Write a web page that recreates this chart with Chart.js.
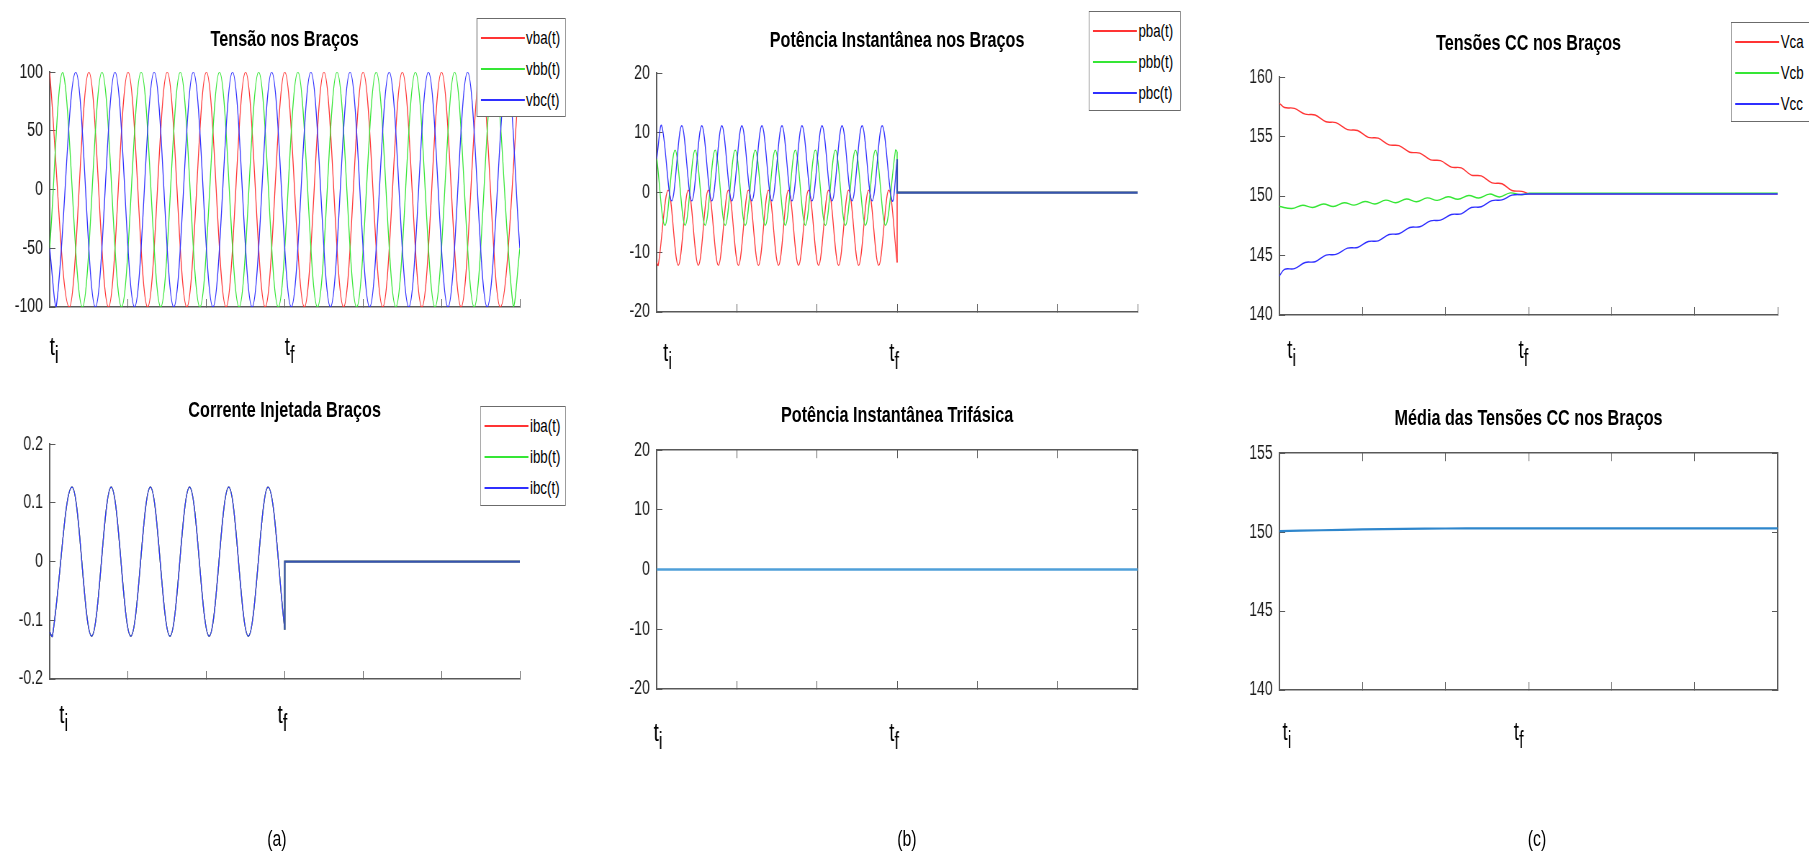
<!DOCTYPE html>
<html>
<head>
<meta charset="utf-8">
<title>Tensões e potências nos braços</title>
<script src="https://cdn.jsdelivr.net/npm/chart.js@4.4.0/dist/chart.umd.min.js"></script>
<style>
html, body { margin: 0; padding: 0; background: #fff; width: 1809px; height: 855px; overflow: hidden; }
/* the original figure is squeezed horizontally, so the whole sheet is drawn wide and scaled */
#fig { position: absolute; left: 0; top: 0; width: 2513px; height: 855px; transform: scaleX(0.72); transform-origin: 0 0;
       font-family: "Liberation Sans", Arial, sans-serif; }
.panel { position: absolute; }
.title { position: absolute; width: 700px; text-align: center; font-weight: bold; font-size: 22.5px; line-height: 26px; color: #000; white-space: nowrap; }
.legend { position: absolute; background: #fff; border: 1.5px solid #6b6b6b; box-sizing: border-box; overflow: hidden; }
.row { position: absolute; left: 5px; height: 24px; display: flex; align-items: center; white-space: nowrap; }
.ln { display: inline-block; width: 61px; height: 2px; margin-right: 2px; }
.lb { font-size: 18.5px; color: #000; }
.cap { position: absolute; width: 100px; text-align: center; font-size: 22px; line-height: 26px; color: #000; }
</style>
</head>
<body>
<div id="fig"></div>
<script>
// Time axis: t_i = 0, t_f = 3, end of record = 6 (one tick per unit)
const tMarkAt = [0, 3];
const tSubs = ['i', 'f'];

// (a) Tensão nos Braços
const vbaT = [0,0.25,0.5,0.75,1,1.25,1.5,1.75,2,2.25,2.5,2.75,3,3.25,3.5,3.75,4,4.25,4.5,4.75,5,5.25,5.5,5.75,6];
const vbaV = [100,-100,100,-100,100,-100,100,-100,100,-100,100,-100,100,-100,100,-100,100,-100,100,-100,100,-100,100,-100,100];
const vbbT = [0,0.167,0.417,0.667,0.917,1.167,1.417,1.667,1.917,2.167,2.417,2.667,2.917,3.167,3.417,3.667,3.917,4.167,4.417,4.667,4.917,5.167,5.417,5.667,5.917,6];
const vbbV = [-50,100,-100,100,-100,100,-100,100,-100,100,-100,100,-100,100,-100,100,-100,100,-100,100,-100,100,-100,100,-100,-50];
const vbcT = [0,0.083,0.333,0.583,0.833,1.083,1.333,1.583,1.833,2.083,2.333,2.583,2.833,3.083,3.333,3.583,3.833,4.083,4.333,4.583,4.833,5.083,5.333,5.583,5.833,6];
const vbcV = [-50,-100,100,-100,100,-100,100,-100,100,-100,100,-100,100,-100,100,-100,100,-100,100,-100,100,-100,100,-100,100,-50];

// (a) Corrente Injetada Braços (the three currents coincide)
const iT = [0,0.035,0.285,0.535,0.785,1.035,1.285,1.535,1.785,2.035,2.285,2.535,2.785,3];
const iV = [-0.12,-0.127,0.127,-0.127,0.127,-0.127,0.127,-0.127,0.127,-0.127,0.127,-0.127,0.127,-0.116];
const tailT = [3, 3, 6];
const iTail = [-0.116, 0, 0];

// (b) Potência Instantânea nos Braços
const pbaT = [0,0.02,0.145,0.27,0.395,0.52,0.645,0.77,0.895,1.02,1.145,1.27,1.395,1.52,1.645,1.77,1.895,2.02,2.145,2.27,2.395,2.52,2.645,2.77,2.895,3];
const pbaV = [-11.7,-12.2,0.4,-12.2,0.4,-12.2,0.4,-12.2,0.4,-12.2,0.4,-12.2,0.4,-12.2,0.4,-12.2,0.4,-12.2,0.4,-12.2,0.4,-12.2,0.4,-12.2,0.4,-11.7];
const pbbT = [0,0.105,0.23,0.355,0.48,0.605,0.73,0.855,0.98,1.105,1.23,1.355,1.48,1.605,1.73,1.855,1.98,2.105,2.23,2.355,2.48,2.605,2.73,2.855,2.98,3];
const pbbV = [6,-5.5,7.1,-5.5,7.1,-5.5,7.1,-5.5,7.1,-5.5,7.1,-5.5,7.1,-5.5,7.1,-5.5,7.1,-5.5,7.1,-5.5,7.1,-5.5,7.1,-5.5,7.1,6.9];
const pbcT = [0,0.063,0.188,0.313,0.438,0.563,0.688,0.813,0.938,1.063,1.188,1.313,1.438,1.563,1.688,1.813,1.938,2.063,2.188,2.313,2.438,2.563,2.688,2.813,2.938,3];
const pbcV = [5.6,11.2,-1.4,11.2,-1.4,11.2,-1.4,11.2,-1.4,11.2,-1.4,11.2,-1.4,11.2,-1.4,11.2,-1.4,11.2,-1.4,11.2,-1.4,11.2,-1.4,11.2,-1.4,5.6];
const pbaTail = [-11.7, 0, 0];
const pbbTail = [6.9, 0, 0];
const pbcTail = [5.6, 0, 0];

// (b) Potência Instantânea Trifásica
const p3T = [0, 3, 6];
const p3V = [0, 0, 0];

// (c) Tensões CC nos Braços
const vcT = [0,0.06,0.18,0.31,0.43,0.56,0.68,0.82,0.94,1.07,1.19,1.32,1.44,1.57,1.69,1.82,1.94,2.07,2.19,2.31,2.43,2.56,2.68,2.8,2.92,3];
const vcaV = [157.81,157.45,157.38,156.89,156.82,156.25,156.18,155.59,155.52,154.94,154.87,154.31,154.24,153.69,153.62,153.05,152.98,152.44,152.37,151.77,151.7,151.11,151.04,150.47,150.4,150.2];
const vccV = [143.28,143.84,143.9,144.42,144.48,145.04,145.1,145.62,145.68,146.18,146.24,146.77,146.83,147.36,147.42,147.92,147.98,148.45,148.51,149.04,149.1,149.62,149.68,150.08,150.14,150.18];
const vcbT = [0,0.15,0.28,0.4,0.53,0.65,0.78,0.9,1.03,1.15,1.28,1.4,1.53,1.65,1.78,1.9,2.03,2.15,2.28,2.4,2.53,2.65,2.78,2.9,3];
const vcbV = [149.12,148.96,149.23,149.04,149.34,149.12,149.44,149.24,149.55,149.34,149.66,149.44,149.76,149.53,149.85,149.64,149.95,149.73,150.05,149.84,150.17,149.93,150.27,150.12,150.22];
const vcTailT = [3, 6];
const vcaTail = [150.2, 150.2];
const vcbTail = [150.23, 150.23];
const vccTail = [150.18, 150.18];

// (c) Média das Tensões CC nos Braços
const vmT = [0,0.5,1,1.5,2,2.5,3,4.5,6];
const vmV = [150.06,150.12,150.17,150.21,150.23,150.24,150.24,150.24,150.24];

const FONT = '"Liberation Sans", Arial, sans-serif';
const RED = '#ff3434', GREEN = '#35e635', BLUE = '#2f2fff', FLAT = '#3553b0';
const AXIS = '#595959';
const SINE = 0.37;   // bezier tension that turns extrema into a sine shape
const Y_W = 90, PAD_T = 16, PAD_R = 16, X_H = 70;

Chart.defaults.font.family = FONT;

function pts(xs, ys) {
    return xs.map((x, i) => ({ x: x, y: ys[i] }));
}

function line(xs, ys, color, width, tension) {
    return {
        data: pts(xs, ys),
        borderColor: color,
        borderWidth: width,
        tension: tension,
        pointRadius: 0,
        fill: false,
        xAxisID: 'x',
        yAxisID: 'y'
    };
}

// t_i / t_f marks under the time axis
const tLabelPlugin = {
    id: 'tLabels',
    afterDraw(chart, args, opts) {
        const ctx = chart.ctx;
        const xs = chart.scales.x;
        const y = chart.chartArea.bottom + opts.dy;
        ctx.save();
        ctx.fillStyle = '#000';
        ctx.textAlign = 'left';
        ctx.textBaseline = 'alphabetic';
        tMarkAt.forEach((v, i) => {
            const x = xs.getPixelForValue(v) + opts.off[i];
            ctx.font = '26px ' + FONT;
            ctx.fillText('t', x, y);
            const w = ctx.measureText('t').width;
            ctx.font = '23px ' + FONT;
            ctx.fillText(tSubs[i], x + w, y + 8);
        });
        ctx.restore();
    }
};

function xAxis(pos) {
    return {
        type: 'linear', position: pos, min: 0, max: 6,
        ticks: { display: false, stepSize: 1 },
        grid: { display: true, drawOnChartArea: false, drawTicks: true, tickLength: -8, tickColor: AXIS },
        border: { display: true, color: AXIS, width: 1.5 },
        afterFit: s => { s.height = pos === 'bottom' ? X_H : 0; }
    };
}

function yAxis(pos, p) {
    return {
        type: 'linear', position: pos, min: p.ymin, max: p.ymax,
        ticks: { display: pos === 'left', stepSize: p.ystep, padding: 17.5, color: '#1a1a1a', font: { size: 19.5 } },
        grid: { display: true, drawOnChartArea: false, drawTicks: true, tickLength: -8, tickColor: AXIS },
        border: { display: true, color: AXIS, width: 2 },
        afterFit: s => { s.width = pos === 'left' ? Y_W : 0; }
    };
}

const panels = [
    {   // (a) top
        L: 69.0, R: 721.8, T: 59.3, B: 307.3, ymin: -100, ymax: 100, ystep: 50, box: false,
        title: 'Tensão nos Braços', titleY: 39,
        legend: { left: 661.7, top: 18, width: 124, height: 99, items: [['vba(t)', RED], ['vbb(t)', GREEN], ['vbc(t)', BLUE]] },
        tl: { dy: 48, off: [0, 0] },
        sets: [
            line(vbaT, vbaV, RED, 1.3, SINE),
            line(vbbT, vbbV, GREEN, 1.3, SINE),
            line(vbcT, vbcV, BLUE, 1.3, SINE)
        ]
    },
    {   // (b) top
        L: 911.9, R: 1580.1, T: 60, B: 312.3, ymin: -20, ymax: 20, ystep: 10, box: false,
        title: 'Potência Instantânea nos Braços', titleY: 40,
        legend: { left: 1512.1, top: 11, width: 128, height: 100, items: [['pba(t)', RED], ['pbb(t)', GREEN], ['pbc(t)', BLUE]] },
        tl: { dy: 49, off: [9, -11] },
        sets: [
            line(pbaT, pbaV, RED, 1.3, SINE),
            line(pbbT, pbbV, GREEN, 1.3, SINE),
            line(pbcT, pbcV, BLUE, 1.3, SINE),
            line(tailT, pbaTail, RED, 1.5, 0),
            line(tailT, pbbTail, GREEN, 1.5, 0),
            line(tailT, pbcTail, FLAT, 2.2, 0)
        ]
    },
    {   // (c) top
        L: 1777.2, R: 2468.8, T: 64.3, B: 315, ymin: 140, ymax: 160, ystep: 5, box: false,
        title: 'Tensões CC nos Braços', titleY: 43,
        legend: { left: 2404.2, top: 21.7, width: 220, height: 100, items: [['Vca', RED], ['Vcb', GREEN], ['Vcc', BLUE]] },
        tl: { dy: 43, off: [10.8, -13.9] },
        sets: [
            line(vcT, vcaV, RED, 1.4, 0.35),
            line(vcbT, vcbV, GREEN, 1.4, SINE),
            line(vcT, vccV, BLUE, 1.4, 0.35),
            line(vcTailT, vcaTail, RED, 1.5, 0),
            line(vcTailT, vcbTail, GREEN, 1.5, 0),
            line(vcTailT, vccTail, BLUE, 1.5, 0)
        ]
    },
    {   // (a) bottom
        L: 69.0, R: 721.8, T: 430.7, B: 679, ymin: -0.2, ymax: 0.2, ystep: 0.1, box: false,
        title: 'Corrente Injetada Braços', titleY: 410,
        legend: { left: 667.1, top: 406, width: 118.5, height: 100, items: [['iba(t)', RED], ['ibb(t)', GREEN], ['ibc(t)', BLUE]] },
        tl: { dy: 44, off: [13.3, -10] },
        sets: [
            line(iT, iV, RED, 1.3, SINE),
            line(iT, iV, GREEN, 1.3, SINE),
            line(iT, iV, BLUE, 1.3, SINE),
            line(tailT, iTail, RED, 1.5, 0),
            line(tailT, iTail, GREEN, 1.5, 0),
            line(tailT, iTail, FLAT, 2.2, 0)
        ]
    },
    {   // (b) bottom
        L: 911.9, R: 1580.1, T: 437.3, B: 689.3, ymin: -20, ymax: 20, ystep: 10, box: true,
        title: 'Potência Instantânea Trifásica', titleY: 415,
        legend: null,
        tl: { dy: 52, off: [-4.2, -11] },
        sets: [line(p3T, p3V, '#4f9fd8', 2.5, 0)]
    },
    {   // (c) bottom
        L: 1777.2, R: 2468.8, T: 440, B: 690, ymin: 140, ymax: 155, ystep: 5, box: true,
        title: 'Média das Tensões CC nos Braços', titleY: 418,
        legend: null,
        tl: { dy: 50, off: [4.2, -20.4] },
        sets: [line(vmT, vmV, '#2e86cc', 2.2, 0.3)]
    }
];

const captions = [['(a)', 384.7], ['(b)', 1259.7], ['(c)', 2134.7]];

function makePanel(p) {
    const fig = document.getElementById('fig');
    const w = Math.round(Y_W + (p.R - p.L) + PAD_R);
    const h = Math.round(PAD_T + (p.B - p.T) + X_H);

    const wrap = document.createElement('div');
    wrap.className = 'panel';
    wrap.style.left = (p.L - Y_W) + 'px';
    wrap.style.top = (p.T - PAD_T) + 'px';
    wrap.style.width = w + 'px';
    wrap.style.height = h + 'px';
    const canvas = document.createElement('canvas');
    canvas.width = w;
    canvas.height = h;
    wrap.appendChild(canvas);
    fig.appendChild(wrap);

    const scales = { x: xAxis('bottom'), y: yAxis('left', p) };
    if (p.box) {
        scales.x2 = xAxis('top');
        scales.y2 = yAxis('right', p);
    }

    new Chart(canvas.getContext('2d'), {
        type: 'line',
        data: { datasets: p.sets.slice().reverse() },   // first dataset is drawn on top
        options: {
            responsive: false,
            animation: false,
            events: [],
            devicePixelRatio: 1,
            layout: { padding: { top: PAD_T, right: PAD_R, left: 0, bottom: 0 } },
            plugins: {
                legend: { display: false },
                tooltip: { enabled: false },
                tLabels: p.tl
            },
            scales: scales
        },
        plugins: [tLabelPlugin]
    });

    const title = document.createElement('div');
    title.className = 'title';
    title.textContent = p.title;
    title.style.left = ((p.L + p.R) / 2 - 350) + 'px';
    title.style.top = (p.titleY - 13) + 'px';
    fig.appendChild(title);

    if (p.legend) {
        const lg = document.createElement('div');
        lg.className = 'legend';
        lg.style.left = p.legend.left + 'px';
        lg.style.top = p.legend.top + 'px';
        lg.style.width = p.legend.width + 'px';
        lg.style.height = p.legend.height + 'px';
        p.legend.items.forEach((it, i) => {
            const row = document.createElement('div');
            row.className = 'row';
            row.style.top = (19 + i * 31 - 12) + 'px';
            row.innerHTML = '<span class="ln" style="background:' + it[1] + '"></span><span class="lb">' + it[0] + '</span>';
            lg.appendChild(row);
        });
        fig.appendChild(lg);
    }
}

panels.forEach(makePanel);

captions.forEach(c => {
    const d = document.createElement('div');
    d.className = 'cap';
    d.textContent = c[0];
    d.style.left = (c[1] - 50) + 'px';
    d.style.top = '826px';
    document.getElementById('fig').appendChild(d);
});
</script>
</body>
</html>
